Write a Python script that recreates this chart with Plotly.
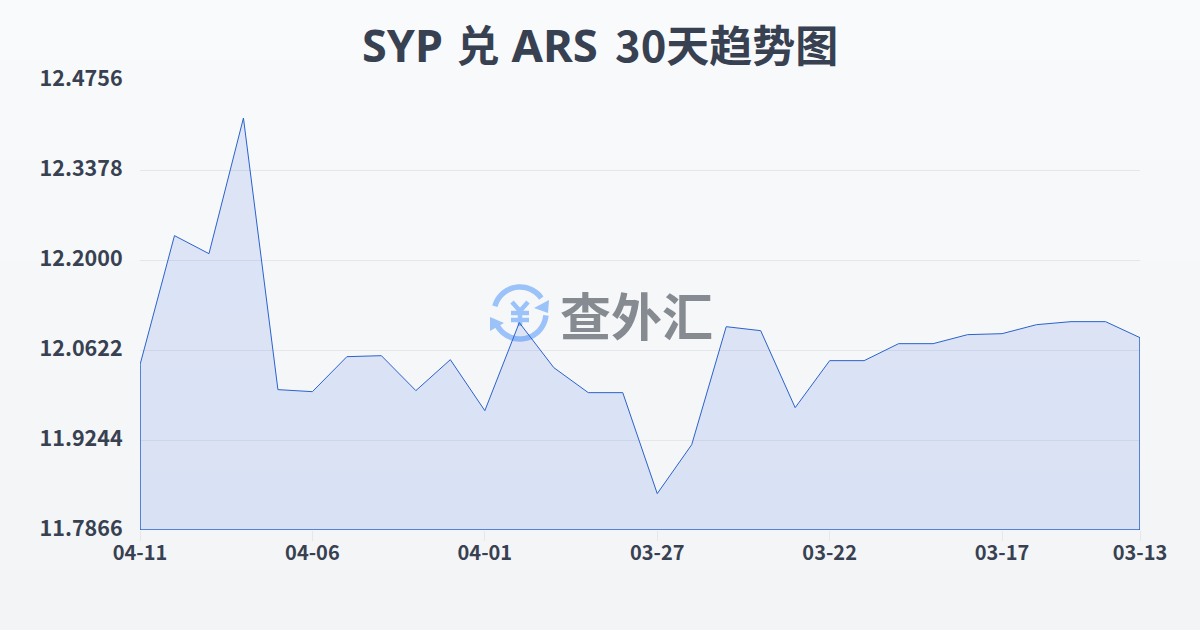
import math
import plotly.graph_objects as go

dates = ["04-11","04-10","04-09","04-08","04-07","04-06","04-05","04-04","04-03","04-02",
         "04-01","03-31","03-30","03-29","03-28","03-27","03-26","03-25","03-24","03-23",
         "03-22","03-21","03-20","03-19","03-18","03-17","03-16","03-15","03-14","03-13"]
rates = [12.0395,12.2373,12.2097,12.4174,12.0015,11.9984,12.0520,12.0535,12.0000,12.0474,
         11.9693,12.1041,12.0352,11.9969,11.9969,11.8423,11.9173,12.0979,12.0918,11.9739,
         12.0459,12.0459,12.0719,12.0719,12.0857,12.0872,12.1010,12.1056,12.1056,12.0811]
y_ticks = [11.7866,11.9244,12.0622,12.2000,12.3378,12.4756]
y_labels = ["11.7866","11.9244","12.0622","12.2000","12.3378","12.4756"]
x_ticks = ["04-11","04-06","04-01","03-27","03-22","03-17","03-13"]
title_parts = [("SYP", "Noto Sans", 45), (" ", "Noto Sans", 52), ("兑", "Noto Sans CJK SC", 43), (" ", "Noto Sans", 46),
               ("ARS", "Noto Sans", 45.5), (" ", "Noto Sans", 66),
               ("30", "Noto Sans CJK SC", 43.5), ("天趋势图", "Noto Sans CJK SC", 43)]
base = y_ticks[0]

FONT = "Noto Sans CJK SC, Noto Sans, sans-serif"
INK = "#374151"
LINE = "#2a62cc"

fig = go.Figure()
fig.add_trace(go.Scatter(x=dates, y=rates, mode="lines", line=dict(color=LINE, width=1),
                         fill="tozeroy", fillcolor="rgba(64,112,227,0.15)", hoverinfo="skip"))
fig.add_trace(go.Scatter(x=[dates[0],dates[0],dates[-1],dates[-1]],
                         y=[rates[0],base,base,rates[-1]], mode="lines",
                         line=dict(color=LINE, width=1.5), cliponaxis=False, hoverinfo="skip"))
# carries the tick labels, which sit 2px above their gridlines in the reference
fig.add_trace(go.Scatter(x=[dates[0]], y=[base], yaxis="y2", mode="none", hoverinfo="skip"))

TOP = 70
H = 530 - TOP
def px(x): return (x-140)/1000
def py(y): return (530-y)/H
def path(points, close=False):
    s = "M " + " L ".join(f"{px(a):.5f},{py(b):.5f}" for a,b in points)
    return s + (" Z" if close else "")

shapes = []
N = 63
for i in range(N):
    t = i/(N-1)
    c = (round(249+(243-249)*t), round(250+(244-250)*t), round(251+(246-251)*t))
    shapes.append(dict(type="rect", xref="paper", yref="paper", layer="below",
                       x0=-0.2, x1=1.2, y0=py((i+1)*10), y1=py(i*10),
                       fillcolor=f"rgb{c}", line_width=0))

cx, cy, r = 520, 313, 26
def arc(a0,a1,n=24):
    return [(cx+r*math.cos(math.radians(a0+(a1-a0)*k/n)), cy-r*math.sin(math.radians(a0+(a1-a0)*k/n))) for k in range(n+1)]
ICON = "#9cc2fa"
for a0,a1 in [(165,35),(-5,-150)]:
    shapes.append(dict(type="path", xref="paper", yref="paper", layer="below", path=path(arc(a0,a1)),
                       line=dict(color=ICON,width=5.5)))
shapes.append(dict(type="path", xref="paper", yref="paper", layer="below",
                   path=path([(549,300),(548,313),(534,308)],True), fillcolor=ICON, line_width=0))
shapes.append(dict(type="path", xref="paper", yref="paper", layer="below",
                   path=path([(490,317),(490,331),(504,323)],True), fillcolor=ICON, line_width=0))
for pts in [[(512,302),(520,311),(528,302)],[(520,311),(520,326)],[(511,313),(529,313)],[(511,320),(529,320)]]:
    shapes.append(dict(type="path", xref="paper", yref="paper", layer="below", path=path(pts),
                       line=dict(color=ICON,width=4.5)))

title_html = "<b>" + "".join(f'<span style="font-family:{f};font-size:{s}px">{t}</span>' for t,f,s in title_parts) + "</b>"
y_span = (y_ticks[-1]-y_ticks[0]) * H / 450

fig.update_layout(
    width=1200, height=630, margin=dict(l=140,r=60,t=TOP,b=100),
    paper_bgcolor="#f6f7f9", plot_bgcolor="rgba(0,0,0,0)", showlegend=False,
    font=dict(family=FONT, color=INK),
    shapes=shapes,
    annotations=[
        dict(text=title_html, x=0.46, y=py(36), xref="paper", yref="paper", showarrow=False,
             xanchor="center", yanchor="middle", font=dict(size=44, color=INK, family=FONT)),
        dict(text="<b>查外汇</b>", x=px(636), y=py(314), xref="paper", yref="paper", showarrow=False,
             xanchor="center", yanchor="middle", font=dict(size=51, color="#868a91", family="Noto Sans CJK SC")),
    ],
    xaxis=dict(type="category", categoryorder="array", categoryarray=dates, range=[0,len(dates)-1],
               tickmode="array", tickvals=x_ticks, ticktext=[f"<b>{t}</b>" for t in x_ticks],
               tickfont=dict(size=20, color=INK), ticks="outside", ticklen=10, tickcolor="#e5e7eb", tickwidth=1,
               ticklabelstandoff=-5, showgrid=False, zeroline=False, showline=False),
    yaxis=dict(domain=[0, 450/H], range=[y_ticks[0],y_ticks[-1]], tickmode="array", tickvals=y_ticks,
               showticklabels=False, ticks="",
               showgrid=True, gridcolor="#e5e7eb", gridwidth=1, zeroline=False, showline=False),
    yaxis2=dict(domain=[0, 1], side="left", anchor="x",
                range=[y_ticks[0]-0.003, y_ticks[0]-0.003+y_span], tickmode="array", tickvals=y_ticks,
                ticktext=[f"<b>{t}</b>" for t in y_labels], tickfont=dict(size=21.5, color=INK),
                ticks="outside", ticklen=12, tickcolor="rgba(0,0,0,0)",
                showgrid=False, zeroline=False, showline=False),
)
fig.write_html("out.html", config=dict(displayModeBar=False),
               post_script="document.body.style.margin='0';document.documentElement.style.overflow='hidden';")
